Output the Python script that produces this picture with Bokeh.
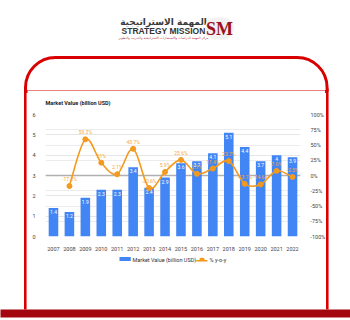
from bokeh.plotting import figure
from bokeh.models import (Range1d, LinearAxis, FixedTicker, PrintfTickFormatter, Span, Label, Grid)
from bokeh.core.properties import value
from bokeh.embed import file_html
from bokeh.resources import INLINE

years = [2007, 2008, 2009, 2010, 2011, 2012, 2013, 2014, 2015, 2016, 2017, 2018, 2019, 2020, 2021, 2022]
market_value = [1.4, 1.2, 1.9, 2.3, 2.3, 3.4, 2.4, 2.9, 3.6, 3.7, 4.1, 5.1, 4.4, 3.7, 4.0, 3.9]
bar_labels = ["1.4", "1.2", "1.9", "2.3", "2.3", "3.4", "2.4", "2.9", "3.6", "3.7", "4.1", "5.1", "4.4", "3.7", "4", "3.9"]
growth_years = years[1:]
growth_pct = [-17.3, 59.3, 21.0, 2.1, 43.7, -20.6, 5.9, 25.6, 2.7, 11.4, 23.7, -13.7, -14.6, 7.6, -2.5]
growth_labels = ["-17.3%", "59.3%", "21%", "2.1%", "43.7%", "-20.6%", "5.9%", "25.6%", "2.7%",
                 "11.4%", "23.7%", "-13.7%", "-14.6%", "7.6%", "-2.5%"]
left_ticks = [0, 1, 2, 3, 4, 5, 6]
right_ticks = [-100, -75, -50, -25, 0, 25, 50, 75, 100]
series_names = ["Market Value (billion USD)", "% y-o-y"]

BLUE = "#4285f4"
ORANGE = "#f39a1e"
RED = "#d90000"
FONT = "Roboto"
W, H = 350, 320

p = figure(width=W, height=H, x_range=Range1d(2006.5, 2022.5), y_range=Range1d(0, 6),
           output_backend="svg", toolbar_location=None, title=None,
           min_border_left=45, min_border_right=50, min_border_top=114, min_border_bottom=84)
p.extra_y_ranges = {"pct": Range1d(-100, 100)}
p.outline_line_color = None
p.background_fill_color = "white"
p.border_fill_color = "white"


def style_axis(ax):
    ax.axis_line_color = None
    ax.major_tick_line_color = None
    ax.minor_tick_line_color = None
    ax.major_label_text_font = FONT
    ax.major_label_text_font_size = "5.5px"
    ax.major_label_text_color = "#444444"
    ax.major_label_standoff = 4


p.xaxis.ticker = FixedTicker(ticks=years)
p.yaxis.ticker = FixedTicker(ticks=left_ticks)
style_axis(p.xaxis[0])
style_axis(p.yaxis[0])
rax = LinearAxis(y_range_name="pct", ticker=FixedTicker(ticks=right_ticks),
                 formatter=PrintfTickFormatter(format="%d%%"))
style_axis(rax)
p.add_layout(rax, "right")

p.xgrid.visible = False
p.ygrid.ticker = FixedTicker(ticks=left_ticks)
p.ygrid.grid_line_color = "#e6e6e6"
p.add_layout(Grid(dimension=1, y_range_name="pct", ticker=FixedTicker(ticks=right_ticks),
                  grid_line_color="#ececec"))
p.add_layout(Span(location=0, dimension="width", y_range_name="pct",
                  line_color="#b0b0b0", line_width=1.3, level="underlay"))

p.vbar(x=years, top=market_value, width=0.6, fill_color=BLUE, line_color=None)
p.text(x=years, y=market_value, text=bar_labels, text_color="white",
       text_font=value(FONT), text_font_size="5px", text_align="center",
       text_baseline="top", y_offset=2)

# smooth line (Catmull-Rom -> cubic bezier) through the growth points
n = len(growth_years)
x0, y0, x1, y1, cx0, cy0, cx1, cy1 = [], [], [], [], [], [], [], []
for i in range(n - 1):
    pa = (growth_years[max(i - 1, 0)], growth_pct[max(i - 1, 0)])
    pb = (growth_years[i], growth_pct[i])
    pc = (growth_years[i + 1], growth_pct[i + 1])
    pd = (growth_years[min(i + 2, n - 1)], growth_pct[min(i + 2, n - 1)])
    x0.append(pb[0]); y0.append(pb[1]); x1.append(pc[0]); y1.append(pc[1])
    cx0.append(pb[0] + (pc[0] - pa[0]) / 6); cy0.append(pb[1] + (pc[1] - pa[1]) / 6)
    cx1.append(pc[0] - (pd[0] - pb[0]) / 6); cy1.append(pc[1] - (pd[1] - pb[1]) / 6)
p.bezier(x0=x0, y0=y0, x1=x1, y1=y1, cx0=cx0, cy0=cy0, cx1=cx1, cy1=cy1,
         line_color=ORANGE, line_width=1.6, y_range_name="pct")
p.scatter(x=growth_years, y=growth_pct, size=5, fill_color=ORANGE, line_color=ORANGE,
          y_range_name="pct")
p.text(x=growth_years, y=growth_pct, text=growth_labels, text_color="#f5a83a",
       text_font=value(FONT), text_font_size="5px", text_align="center",
       text_baseline="bottom", y_offset=-4, y_range_name="pct")

# ---------- pieces outside the plot frame: canvas units, in side panels (not clipped) ----------
LU = dict(x_units="canvas", y_units="canvas")


def label(side, **kw):
    p.add_layout(Label(**LU, **kw), side)


def rect(side, left, top, right, bottom, fill=None, line=None, lw=0, radius=0):
    # a box drawn as the background of a small label whose dot has the box colour
    hgt = bottom - top
    fs = max(4.0, min(6.0, hgt * 0.8))
    tw, th = 0.27 * fs, 1.17 * fs
    kw = dict(x=left, y=top, text=".", text_font=FONT, text_font_size=f"{fs:.1f}px",
              text_color=fill if fill is not None else "white",
              text_align="left", text_baseline="top",
              padding=dict(left=0, right=max(int(round(right - left - tw)), 0), top=0,
                           bottom=max(int(round(hgt - th)), 0)))
    if fill is not None:
        kw.update(background_fill_color=fill, background_fill_alpha=1)
    if line is not None:
        kw.update(border_line_color=line, border_line_width=lw, border_line_alpha=1)
    if radius:
        kw.update(border_radius=radius)
    label(side, **kw)


# rounded red frame: upper part (bottom edge hidden by white masks), two sides
rect("above", 27, 90, 325, 99, fill="#ffffff")
rect("above", 25, 57, 327, 94, line=RED, lw=3,
     radius=dict(top_left=30, top_right=30, bottom_right=0, bottom_left=0))
rect("above", 27, 90, 325, 99, fill="#ffffff")
rect("left", 23.5, 88, 26.5, 312, fill=RED)
rect("right", 325.5, 88, 328.5, 312, fill=RED)
# dark red band at the bottom
rect("below", 0, 309, W, H, fill="#a3060f")

# logo
label("above", x=163, y=21, text="المهمة الاستراتيجية", text_font="DejaVu Sans",
      text_font_size="9px", text_font_style="bold", text_color="#3a3a3a",
      text_align="center", text_baseline="middle")
label("above", x=163, y=30.5, text="STRATEGY MISSION", text_font="Liberation Sans",
      text_font_size="8.5px", text_font_style="bold", text_color="#333333",
      text_align="center", text_baseline="middle")
label("above", x=163, y=37, text="مركز المهمة للدراسات والاستشارات الاستراتيجية والتدريب والتطوير",
      text_font="DejaVu Sans", text_font_size="3.2px", text_color="#b5303a",
      text_align="center", text_baseline="middle")
label("above", x=219, y=28, text="SM", text_font="Liberation Serif", text_font_size="18px",
      text_font_style="bold", text_color="#9b111e", text_align="center", text_baseline="middle",
      background_fill_color="#f2f2f2", border_radius=10, padding=1)

# chart title
label("above", x=45, y=102, text="Market Value (billion USD)", text_font=FONT,
      text_font_size="5.5px", text_font_style="bold", text_color="#222222",
      text_baseline="middle")

# legend
rect("below", 119, 256.5, 130, 262.5, fill=BLUE)
label("below", x=132, y=259.5, text=series_names[0], text_font=FONT, text_font_size="5.5px",
      text_color="#333333", text_baseline="middle")
label("below", x=201.5, y=259.5, text="─", text_font="DejaVu Sans", text_font_size="18px",
      text_color=ORANGE, text_align="center", text_baseline="middle")
rect("below", 199, 257.2, 204, 262, fill=ORANGE, radius=3)
label("below", x=209, y=259.5, text=series_names[1], text_font=FONT, text_font_size="5.5px",
      text_color="#333333", text_baseline="middle")

open("out.html", "w").write(file_html(p, INLINE))
